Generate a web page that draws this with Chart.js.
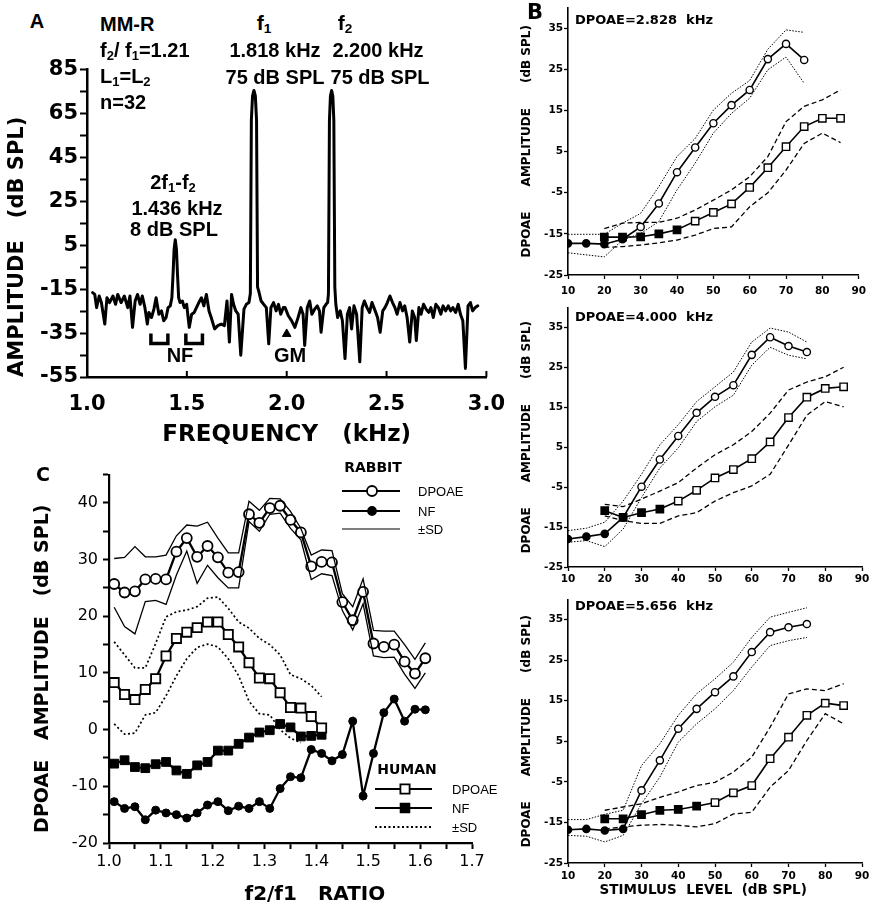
<!DOCTYPE html>
<html>
<head>
<meta charset="utf-8">
<script src="https://cdn.jsdelivr.net/npm/chart.js@4.4.1/dist/chart.umd.min.js"></script>
<style>
html, body { margin: 0; padding: 0; background: #fff; overflow: hidden; }
#page { position: relative; width: 875px; height: 907px; background: #fff; }
#page canvas { position: absolute; }
.note { position: absolute; font-family: 'DejaVu Sans', sans-serif; font-weight: bold; white-space: pre; color: #000; line-height: 1; }
.note.helv { font-family: 'Liberation Sans', Arial, sans-serif; }
.note sub { font-size: 65%; vertical-align: -0.25em; line-height: 0; }
</style>
</head>
<body>
<div id="page"></div>
<script>
/* ---------- panel A : spectrum ---------- */
// [frequency kHz, amplitude dB SPL]
var spectrumA = [
  [1.028,-16.6],[1.039,-17.4],[1.048,-23.4],[1.061,-18.1],[1.072,-21.1],[1.089,-30.9],[1.100,-18.9],[1.113,-21.1],
  [1.130,-18.1],[1.143,-21.9],[1.154,-17.4],[1.171,-21.1],[1.187,-18.1],[1.204,-23.4],[1.215,-18.1],[1.228,-32.4],
  [1.241,-20.4],[1.253,-17.4],[1.266,-21.9],[1.277,-18.1],[1.290,-23.4],[1.302,-30.9],[1.310,-25.6],[1.323,-27.9],
  [1.335,-24.1],[1.346,-18.9],[1.360,-26.4],[1.373,-24.9],[1.384,-29.4],[1.396,-27.9],[1.406,-23.4],[1.417,-22.6],
  [1.425,-18.9],[1.431,-8],[1.436,3],[1.442,7.5],[1.448,3],[1.453,-8],[1.459,-18.9],[1.466,-21.1],
  [1.478,-20.4],[1.487,-23.4],[1.499,-21.9],[1.512,-32.4],[1.524,-26.4],[1.537,-25.6],[1.548,-23.4],[1.560,-21.1],
  [1.573,-18.9],[1.585,-22.6],[1.598,-17.4],[1.611,-24.9],[1.622,-27.9],[1.639,-33.1],[1.655,-31.6],[1.672,-30.9],
  [1.688,-31.6],[1.701,-20.4],[1.713,-39.1],[1.724,-17.4],[1.734,-21.9],[1.745,-24.9],[1.757,-26.4],[1.770,-45.1],
  [1.786,-24.1],[1.798,-21.9],[1.811,-21.1],[1.818,-17],[1.823,62],[1.829,73],[1.836,75.5],[1.843,73],
  [1.849,62],[1.854,-14],[1.860,-15.9],[1.872,-20.4],[1.885,-21.9],[1.898,-23.4],[1.910,-39.9],[1.921,-23.4],
  [1.934,-21.1],[1.947,-24.9],[1.959,-21.9],[1.970,-26.4],[1.983,-23.4],[1.992,-23.4],[2.008,-27.1],[2.025,-29.4],
  [2.041,-32.4],[2.057,-27.9],[2.071,-23.4],[2.082,-26.4],[2.090,-40.6],[2.103,-23.4],[2.115,-20.4],[2.126,-26.4],
  [2.140,-24.1],[2.153,-22.6],[2.164,-24.9],[2.172,-34.6],[2.186,-23.4],[2.197,-21.9],[2.205,-21.1],[2.209,-17],
  [2.214,62],[2.219,73],[2.225,75.5],[2.231,73],[2.236,62],[2.241,-14],[2.246,-21.9],[2.255,-27.9],
  [2.268,-24.9],[2.279,-29.4],[2.292,-46.6],[2.304,-26.4],[2.315,-23.4],[2.325,-33.1],[2.337,-22.6],[2.350,-26.4],
  [2.366,-48.1],[2.378,-23.4],[2.389,-20.4],[2.402,-23.4],[2.415,-25.6],[2.427,-21.1],[2.443,-24.9],[2.455,-27.9],
  [2.468,-34.6],[2.481,-24.9],[2.492,-23.4],[2.504,-21.1],[2.517,-18.1],[2.530,-21.1],[2.542,-23.4],[2.553,-26.4],
  [2.567,-21.1],[2.580,-24.9],[2.591,-22.6],[2.603,-27.9],[2.616,-39.1],[2.629,-24.9],[2.641,-27.9],[2.649,-38.4],
  [2.662,-23.4],[2.673,-26.4],[2.685,-21.9],[2.698,-24.1],[2.711,-25.6],[2.722,-23.4],[2.734,-27.9],[2.747,-21.9],
  [2.760,-23.4],[2.772,-26.4],[2.783,-22.6],[2.796,-24.9],[2.809,-22.6],[2.821,-24.9],[2.832,-23.4],[2.846,-25.6],
  [2.859,-21.9],[2.870,-26.4],[2.882,-29.4],[2.895,-51.1],[2.908,-22.6],[2.920,-21.1],[2.931,-24.9],[2.944,-23.4],
  [2.957,-22.6]
];
var noiseBandsA = [[1.32, 1.405], [1.495, 1.578]];   // NF brackets (kHz)
var bracketLevelsA = [-35.2, -39.7];                  // bracket top / bottom (dB)
var gmMarkA = [2.0, -35.4];                           // geometric mean marker
var freqTicksA = [1.0, 1.5, 2.0, 2.5, 3.0];
var ampTicksA = [-55, -45, -35, -25, -15, -5, 5, 15, 25, 35, 45, 55, 65, 75, 85];
var ampLabelsA = [-55, -35, -15, 5, 25, 45, 65, 85];

/* ---------- panel B : I/O functions ---------- */
var levelsRabbit = [10, 15, 20, 25, 30, 35, 40, 45, 50, 55, 60, 65, 70, 75];
var levelsHuman = [20, 25, 30, 35, 40, 45, 50, 55, 60, 65, 70, 75, 80, 85];
var levelTicksB = [10, 20, 30, 40, 50, 60, 70, 80, 90];
var ampTicksB = [-25, -15, -5, 5, 15, 25, 35];

var b1RabbitDp   = [-17.3, -17.3, -17.5, -16.3, -13.3, -7.6, 0, 6, 11.9, 16.3, 20, 27.5, 31.2, 27.3];
var b1RabbitSdHi = [-15.1, -15.1, -15.1, -12.4, -10, -3.5, 3.8, 8.2, 15.1, 19.2, 22.3, 29.9, 34.6, 34];
var b1RabbitSdLo = [-19.6, -20.1, -20.6, -16.5, -14.9, -12, -4.3, 2.2, 9.5, 14.3, 18, 24.9, 28, 21.6];
var b1HumanDp    = [-15.8, -15.8, -15.7, -15, -14, -11.9, -9.8, -7.7, -3.7, 1.1, 6.2, 11.1, 13.1, 13.1];
var b1HumanSdHi  = [-13.7, -12.4, -12.2, -12.2, -11.2, -9.2, -6.8, -4.3, -1.1, 3.8, 12.3, 16, 17.6, 20];
var b1HumanSdLo  = [-18.3, -18.1, -17.7, -17.2, -16.5, -15.3, -13.7, -13.3, -8.4, -5, 0.5, 7, 9.5, 7.2];

var b2RabbitDp   = [-18, -17.4, -16.7, -12.6, -4.9, 1.9, 7.8, 13.6, 17.6, 20.5, 28.1, 32.5, 30.3, 28.8];
var b2RabbitSdHi = [-15.9, -15.3, -13.8, -8.5, -1.8, 5.6, 10.6, 16.4, 20.1, 23.8, 31.3, 34.8, 33.8, 31.3];
var b2RabbitSdLo = [-18.8, -18.4, -19.9, -15.5, -7.6, -0.2, 4.8, 11.4, 15.1, 18, 25.5, 30, 28, 27.1];
var b2HumanDp    = [-10.9, -12.6, -11.4, -10.5, -8.5, -5.8, -2.7, -0.6, 2.1, 6.3, 12.4, 17.5, 19.7, 20.1];
var b2HumanSdHi  = [-9.3, -9.9, -8, -6, -3.9, -0.2, 3.1, 5.6, 8.9, 13.5, 19.3, 21.3, 22.6, 25];
var b2HumanSdLo  = [-12.2, -13.4, -14.1, -14.1, -12.2, -11.4, -8.5, -6.4, -4.7, -1.8, 5.5, 13, 16.4, 15.1];

var b3RabbitDp   = [-16.8, -16.6, -17, -16.6, -7.1, 0.3, 8.1, 13, 17.1, 21, 27, 31.9, 33.1, 33.9];
var b3RabbitSdHi = [-14.3, -14.3, -13, -12, -1, 4.4, 11.4, 16.7, 20.4, 24.5, 30.6, 35.6, 36.8, 37.9];
var b3RabbitSdLo = [-18.2, -18.4, -19.8, -18.2, -10.4, -3.8, 4.8, 9.3, 13, 17.5, 23.3, 28.6, 29.8, 30.6];
var b3HumanDp    = [-14.1, -14.1, -13.1, -12, -11.8, -11, -10.1, -7.7, -5.9, 0.7, 6, 11.4, 14.4, 13.8];
var b3HumanSdHi  = [-12, -11.2, -10.4, -8.8, -7.5, -5.9, -5.1, -2.6, 1.1, 8.5, 16.7, 17.9, 17.5, 19.2];
var b3HumanSdLo  = [-16.6, -16.1, -15.7, -15.5, -15.7, -16.1, -15.3, -12.9, -12.5, -6.3, -2.2, 5.2, 11.8, 9.3];

// number of low-level points drawn filled (at noise floor)
var b1Filled = { rabbit: 4, human: 5 };
var b2Filled = { rabbit: 4, human: 4 };
var b3Filled = { rabbit: 4, human: 6 };

/* ---------- panel C : f2/f1 ratio ---------- */
var ratiosRabbit = [1.01, 1.03, 1.05, 1.07, 1.09, 1.11, 1.13, 1.15, 1.17, 1.19, 1.21, 1.23, 1.25, 1.27, 1.29, 1.31,
                    1.33, 1.35, 1.37, 1.39, 1.41, 1.43, 1.45, 1.47, 1.49, 1.51, 1.53, 1.55, 1.57, 1.59, 1.61];
var cRabbitDp   = [25.7, 24.2, 24.4, 26.5, 26.6, 26.5, 31.4, 33.8, 30.5, 32.4, 30.4, 27.7, 27.8, 38, 36.5, 39.1,
                   39.5, 37, 34.8, 28.8, 29.6, 29.5, 22.5, 19.3, 24.3, 15.2, 14.6, 15, 12, 9.9, 12.6];
var cRabbitSdHi = [30.2, 30.4, 32.3, 30.5, 30.5, 30.8, 34.2, 36.1, 35.9, 36.6, 33.8, 31.2, 31.2, 40.3, 38.7, 40.8,
                   40.7, 38.5, 35.5, 30.8, 31.7, 31.6, 24, 21.7, 26.6, 17.5, 17.4, 17.4, 15, 12.4, 15.3];
var cRabbitSdLo = [21.6, 18.2, 16.9, 22.6, 22.8, 22.1, 27.3, 31.5, 25.8, 29, 26.8, 25, 25, 36.7, 35, 38,
                   38.2, 35.5, 33.5, 26.5, 27.5, 27.2, 21, 17.6, 22.2, 13, 12.7, 12.8, 9.8, 7.3, 10];
var cRabbitNf   = [-12.7, -13.9, -13.6, -15.9, -14.2, -14.7, -15, -15.6, -14.7, -13.3, -12.7, -14.3, -13.5, -13.9, -12.7, -13.9,
                   -10.4, -8.3, -8.5, -3.5, -4.2, -5.5, -4.4, 1.5, -11.7, -4.2, 3, 5.4, 1.5, 3.6, 3.5];
var ratiosHuman = [1.01, 1.03, 1.05, 1.07, 1.09, 1.11, 1.13, 1.15, 1.17, 1.19, 1.21, 1.23, 1.25, 1.27, 1.29, 1.31,
                   1.33, 1.35, 1.37, 1.39, 1.41];
var cHumanDp    = [8.3, 6.2, 5.3, 7.1, 9, 13, 16.1, 17.2, 18, 19, 19, 16.8, 14.6, 11.8, 9.1, 9, 6.5, 3.9, 3.8, 2.3, 0.3];
var cHumanNf    = [-6, -5.4, -6.6, -6.8, -6.1, -5.7, -7.2, -7.8, -6.3, -5.7, -3.7, -3.7, -2.5, -1.4, -0.5, -0.1, 1, 0.4, -1.2, -1.1, -0.9];
var cHumanSdHi  = [15.5, 13.2, 10.9, 10.9, 15.2, 19.9, 20.8, 21.1, 21.7, 23.2, 23.4, 21.4, 19, 17.9, 16.1, 15, 13.2, 9.7, 9, 7.8, 5.8];
var cHumanSdLo  = [1, -0.8, -0.6, 2.6, 3, 6, 9.5, 12.5, 14.5, 15.1, 14.6, 12.5, 9.5, 5, 2.8, 2.6, 0, -1.5, -2.3];
var ratioTicksC = [1.0, 1.05, 1.1, 1.15, 1.2, 1.25, 1.3, 1.35, 1.4, 1.45, 1.5, 1.55, 1.6, 1.65, 1.7];
var ampTicksC = [-20, -15, -10, -5, 0, 5, 10, 15, 20, 25, 30, 35, 40, 45];

/* ---------- setup ---------- */
Chart.defaults.font.family = "'DejaVu Sans', sans-serif";
Chart.defaults.color = '#000';
Chart.defaults.animation = false;

var page = document.getElementById('page');

function makeCanvas(left, top, w, h) {
  var c = document.createElement('canvas');
  c.width = w; c.height = h;
  c.style.left = left + 'px'; c.style.top = top + 'px';
  c.style.width = w + 'px'; c.style.height = h + 'px';
  page.appendChild(c);
  return c;
}

function note(html, x, y, size, anchor, cls) {
  var d = document.createElement('div');
  d.className = 'note' + (cls ? ' ' + cls : '');
  d.innerHTML = html;
  d.style.left = x + 'px';
  d.style.top = y + 'px';
  d.style.fontSize = size + 'px';
  d.style.transform = anchor === 'left' ? 'translate(0,-50%)' : 'translate(-50%,-50%)';
  page.appendChild(d);
}

function pts(xs, ys) {
  return ys.map(function (y, i) { return { x: xs[i], y: y }; });
}

function fixTicks(list) {
  return function (scale) { scale.ticks = list.map(function (v) { return { value: v }; }); };
}

// short tick marks pointing into the plot (panel A x axis)
var innerTicks = {
  id: 'innerTicks',
  afterDraw: function (chart, args, opts) {
    var s = chart.scales.x, ctx = chart.ctx;
    ctx.save();
    ctx.strokeStyle = '#000';
    ctx.lineWidth = 2;
    s.ticks.forEach(function (t) {
      var px = s.getPixelForValue(t.value);
      ctx.beginPath();
      ctx.moveTo(px, s.top);
      ctx.lineTo(px, s.top - opts.len);
      ctx.stroke();
    });
    ctx.restore();
  }
};

/* ---------- chart A ---------- */
var canvasA = makeCanvas(0, 55, 520, 397);
var bracketSets = noiseBandsA.map(function (b) {
  return {
    data: [{ x: b[0], y: bracketLevelsA[0] }, { x: b[0], y: bracketLevelsA[1] },
           { x: b[1], y: bracketLevelsA[1] }, { x: b[1], y: bracketLevelsA[0] }],
    borderColor: '#000', borderWidth: 3.5, pointRadius: 0, borderJoinStyle: 'miter'
  };
});

new Chart(canvasA, {
  type: 'line',
  data: {
    datasets: [
      {
        data: spectrumA.map(function (p) { return { x: p[0], y: p[1] }; }),
        borderColor: '#000', borderWidth: 3, pointRadius: 0, tension: 0,
        borderJoinStyle: 'round', borderCapStyle: 'round'
      },
      bracketSets[0],
      bracketSets[1],
      {
        data: [{ x: gmMarkA[0], y: gmMarkA[1] }],
        showLine: false, pointStyle: 'triangle', pointRadius: 5,
        pointBackgroundColor: '#000', pointBorderColor: '#000', pointBorderWidth: 1
      }
    ]
  },
  plugins: [innerTicks],
  options: {
    responsive: false,
    layout: { autoPadding: false, padding: { top: 10, right: 25, left: 0, bottom: 0 } },
    plugins: { legend: { display: false }, tooltip: { enabled: false }, innerTicks: { len: 6 } },
    scales: {
      x: {
        type: 'linear', min: 1, max: 3,
        afterBuildTicks: fixTicks(freqTicksA),
        afterFit: function (s) { s.height = 75; },
        grid: { display: true, drawOnChartArea: false, drawTicks: false },
        border: { display: true, color: '#000', width: 2.5 },
        ticks: { autoSkip: false, maxRotation: 0, padding: 15, font: { size: 21, weight: 'bold' },
                 callback: function (v) { return v.toFixed(1); } },
        title: { display: true, text: 'FREQUENCY   (kHz)', font: { size: 23, weight: 'bold' },
                 padding: { top: 0, bottom: 3 } }
      },
      y: {
        min: -55, max: 85,
        afterBuildTicks: fixTicks(ampTicksA),
        afterFit: function (s) { s.width = 87; },
        grid: { drawOnChartArea: false, drawTicks: true, tickLength: 7, tickWidth: 2, tickColor: '#000' },
        border: { display: true, color: '#000', width: 2.5 },
        ticks: { autoSkip: false, padding: 2, font: { size: 21, weight: 'bold' },
                 callback: function (v) { return ampLabelsA.indexOf(v) >= 0 ? String(v) : ''; } },
        title: { display: true, text: 'AMPLITUDE   (dB SPL)', align: 'start', font: { size: 21, weight: 'bold' },
                 padding: { top: 5, bottom: 0 } }
      }
    }
  }
});

note('A', 37, 21, 20, 'center', 'helv');
note('MM-R', 100, 24, 20, 'left', 'helv');
note('f<sub>2</sub>/ f<sub>1</sub>=1.21', 100, 50, 20, 'left', 'helv');
note('L<sub>1</sub>=L<sub>2</sub>', 100, 76, 20, 'left', 'helv');
note('n=32', 100, 102, 20, 'left', 'helv');
note('f<sub>1</sub>', 264, 22, 21, 'center', 'helv');
note('1.818 kHz', 275, 50, 20, 'center', 'helv');
note('75 dB SPL', 275, 77, 20, 'center', 'helv');
note('f<sub>2</sub>', 345, 22, 21, 'center', 'helv');
note('2.200 kHz', 378, 50, 20, 'center', 'helv');
note('75 dB SPL', 380, 77, 20, 'center', 'helv');
note('2f<sub>1</sub>-f<sub>2</sub>', 173, 182, 20, 'center', 'helv');
note('1.436 kHz', 177, 208, 20, 'center', 'helv');
note('8 dB SPL', 174, 229, 20, 'center', 'helv');
note('NF', 180, 355, 20, 'center', 'helv');
note('GM', 290, 355, 20, 'center', 'helv');

/* ---------- chart B (three sub-panels) ---------- */
function stimulusChart(slot, s) {
  var canvas = makeCanvas(515, slot.top, 357, slot.height);
  var fillR = levelsRabbit.map(function (v, i) { return i < s.filled.rabbit ? '#000' : '#fff'; });
  var fillH = levelsHuman.map(function (v, i) { return i < s.filled.human ? '#000' : '#fff'; });
  var sdRabbit = { borderColor: '#000', borderWidth: 1, borderDash: [1.5, 1.5], pointRadius: 0 };
  var sdHuman = { borderColor: '#000', borderWidth: 1.3, borderDash: [5, 3], pointRadius: 0 };
  new Chart(canvas, {
    type: 'line',
    data: {
      datasets: [
        Object.assign({ data: pts(levelsRabbit, s.rabbitSdHi) }, sdRabbit),
        Object.assign({ data: pts(levelsRabbit, s.rabbitSdLo) }, sdRabbit),
        Object.assign({ data: pts(levelsHuman, s.humanSdHi) }, sdHuman),
        Object.assign({ data: pts(levelsHuman, s.humanSdLo) }, sdHuman),
        {
          data: pts(levelsHuman, s.humanDp), borderColor: '#000', borderWidth: 1.6,
          pointStyle: 'rect', pointRadius: 5.2, pointBorderWidth: 1.4,
          pointBorderColor: '#000', pointBackgroundColor: fillH
        },
        {
          data: pts(levelsRabbit, s.rabbitDp), borderColor: '#000', borderWidth: 1.6,
          pointStyle: 'circle', pointRadius: 3.6, pointBorderWidth: 1.4,
          pointBorderColor: '#000', pointBackgroundColor: fillR
        }
      ]
    },
    options: {
      responsive: false,
      layout: { autoPadding: false, padding: { top: slot.padTop, right: 10, left: 0, bottom: 0 } },
      plugins: { legend: { display: false }, tooltip: { enabled: false } },
      scales: {
        x: {
          type: 'linear', min: 10, max: 90,
          afterBuildTicks: fixTicks(levelTicksB),
          afterFit: function (sc) { sc.height = slot.xHeight; },
          grid: { drawOnChartArea: false, tickLength: 4, tickWidth: 1.3, tickColor: '#000' },
          border: { display: true, color: '#000', width: 1.6 },
          ticks: { autoSkip: false, maxRotation: 0, padding: slot.labelPad, font: { size: 10.5, weight: 'bold' } },
          title: { display: !!slot.title, text: slot.title || '', font: { size: 13.5, weight: 'bold' },
                   padding: { top: 0, bottom: 4 } }
        },
        y: {
          min: -25, max: 40,
          afterBuildTicks: fixTicks(ampTicksB),
          afterFit: function (sc) { sc.width = 53; },
          grid: { drawOnChartArea: false, tickLength: 4, tickWidth: 1.3, tickColor: '#000' },
          border: { display: true, color: '#000', width: 1.6 },
          ticks: { autoSkip: false, padding: 1, font: { size: 10.5, weight: 'bold' } },
          title: { display: true, text: 'DPOAE      AMPLITUDE      (dB SPL)', font: { size: 12, weight: 'bold' },
                   padding: { top: 4.8, bottom: 0 } }
        }
      }
    }
  });
}

stimulusChart({ top: 0, height: 300, padTop: 7.7, xHeight: 25, labelPad: 6 },
  { rabbitDp: b1RabbitDp, rabbitSdHi: b1RabbitSdHi, rabbitSdLo: b1RabbitSdLo,
    humanDp: b1HumanDp, humanSdHi: b1HumanSdHi, humanSdLo: b1HumanSdLo, filled: b1Filled });
stimulusChart({ top: 300, height: 291, padTop: 5, xHeight: 24, labelPad: 1.5 },
  { rabbitDp: b2RabbitDp, rabbitSdHi: b2RabbitSdHi, rabbitSdLo: b2RabbitSdLo,
    humanDp: b2HumanDp, humanSdHi: b2HumanSdHi, humanSdLo: b2HumanSdLo, filled: b2Filled });
stimulusChart({ top: 592, height: 311, padTop: 7, xHeight: 40, labelPad: 2.5, title: 'STIMULUS  LEVEL  (dB SPL)     ' },
  { rabbitDp: b3RabbitDp, rabbitSdHi: b3RabbitSdHi, rabbitSdLo: b3RabbitSdLo,
    humanDp: b3HumanDp, humanSdHi: b3HumanSdHi, humanSdLo: b3HumanSdLo, filled: b3Filled });

note('B', 535, 12, 21);
note('DPOAE=2.828  kHz', 575, 19, 13, 'left');
note('DPOAE=4.000  kHz', 575, 316, 13, 'left');
note('DPOAE=5.656  kHz', 575, 605, 13, 'left');

/* ---------- chart C ---------- */
var legendKeysC = [
  { head: 'RABBIT', hx: 353, hy: 8, x0: 322, x1: 380, mx: 352, lx: 398, rows: [
    { y: 31, text: 'DPOAE', w: 2, dash: [], shape: 'circle', fill: '#fff', r: 5 },
    { y: 51, text: 'NF', w: 2, dash: [], shape: 'circle', fill: '#000', r: 4 },
    { y: 69, text: '\u00b1SD', w: 1.1, dash: [], shape: null } ] },
  { head: 'HUMAN', hx: 387, hy: 310, x0: 355, x1: 412, mx: 385, lx: 432, rows: [
    { y: 329, text: 'DPOAE', w: 2, dash: [], shape: 'rect', fill: '#fff', r: 4.6 },
    { y: 348, text: 'NF', w: 2, dash: [], shape: 'rect', fill: '#000', r: 4.4 },
    { y: 367, text: '\u00b1SD', w: 1.8, dash: [2, 2.5], shape: null } ] }
];

var panelLegend = {
  id: 'panelLegend',
  afterDraw: function (chart) {
    var ctx = chart.ctx;
    ctx.save();
    legendKeysC.forEach(function (g) {
      ctx.fillStyle = '#000';
      ctx.font = "bold 14px 'DejaVu Sans', sans-serif";
      ctx.textAlign = 'center';
      ctx.textBaseline = 'middle';
      ctx.fillText(g.head, g.hx, g.hy);
      g.rows.forEach(function (r) {
        ctx.strokeStyle = '#000';
        ctx.lineWidth = r.w;
        ctx.setLineDash(r.dash);
        ctx.beginPath();
        ctx.moveTo(g.x0, r.y);
        ctx.lineTo(g.x1, r.y);
        ctx.stroke();
        ctx.setLineDash([]);
        if (r.shape) {
          ctx.fillStyle = r.fill;
          ctx.lineWidth = 1.8;
          ctx.beginPath();
          if (r.shape === 'circle') ctx.arc(g.mx, r.y, r.r, 0, Math.PI * 2);
          else ctx.rect(g.mx - r.r, r.y - r.r, r.r * 2, r.r * 2);
          ctx.fill();
          ctx.stroke();
        }
        ctx.fillStyle = '#000';
        ctx.font = "13px 'Liberation Sans', sans-serif";
        ctx.textAlign = 'left';
        ctx.fillText(r.text, g.lx, r.y + 1);
      });
    });
    ctx.restore();
  }
};

var canvasC = makeCanvas(20, 460, 480, 447);
var sdRabbitC = { borderColor: '#000', borderWidth: 1.3, pointRadius: 0, tension: 0 };
var sdHumanC = { borderColor: '#000', borderWidth: 1.7, borderDash: [2, 2.5], pointRadius: 0, tension: 0 };

new Chart(canvasC, {
  type: 'line',
  data: {
    datasets: [
      Object.assign({ data: pts(ratiosRabbit, cRabbitSdHi) }, sdRabbitC),
      Object.assign({ data: pts(ratiosRabbit, cRabbitSdLo) }, sdRabbitC),
      Object.assign({ data: pts(ratiosHuman, cHumanSdHi) }, sdHumanC),
      Object.assign({ data: pts(ratiosHuman, cHumanSdLo) }, sdHumanC),
      {
        data: pts(ratiosHuman, cHumanDp), borderColor: '#000', borderWidth: 2.3,
        pointStyle: 'rect', pointRadius: 6.5, pointBorderWidth: 1.8,
        pointBorderColor: '#000', pointBackgroundColor: '#fff'
      },
      {
        data: pts(ratiosHuman, cHumanNf), borderColor: '#000', borderWidth: 2.3,
        pointStyle: 'rect', pointRadius: 6.2, pointBorderWidth: 1,
        pointBorderColor: '#000', pointBackgroundColor: '#000'
      },
      {
        data: pts(ratiosRabbit, cRabbitNf), borderColor: '#000', borderWidth: 2.3,
        pointStyle: 'circle', pointRadius: 4, pointBorderWidth: 1,
        pointBorderColor: '#000', pointBackgroundColor: '#000'
      },
      {
        data: pts(ratiosRabbit, cRabbitDp), borderColor: '#000', borderWidth: 2.3,
        pointStyle: 'circle', pointRadius: 5, pointBorderWidth: 1.8,
        pointBorderColor: '#000', pointBackgroundColor: '#fff'
      }
    ]
  },
  plugins: [panelLegend],
  options: {
    responsive: false,
    layout: { autoPadding: false, padding: { top: 11, right: 28, left: 0, bottom: 0 } },
    plugins: { legend: { display: false }, tooltip: { enabled: false } },
    scales: {
      x: {
        type: 'linear', min: 1.0, max: 1.7,
        afterBuildTicks: fixTicks(ratioTicksC),
        afterFit: function (s) { s.height = 64; },
        grid: { drawOnChartArea: false, tickLength: 6, tickWidth: 2, tickColor: '#000' },
        border: { display: true, color: '#000', width: 2.2 },
        ticks: { autoSkip: false, maxRotation: 0, padding: 3.4, font: { size: 16 },
                 callback: function (v) { return Math.round(v * 100) % 10 === 0 ? v.toFixed(1) : ''; } },
        title: { display: true, text: '       f2/f1   RATIO', font: { size: 20, weight: 'bold' },
                 padding: { top: 0, bottom: 0 } }
      },
      y: {
        min: -20, max: 45,
        afterBuildTicks: fixTicks(ampTicksC),
        afterFit: function (s) { s.width = 89; },
        grid: { drawOnChartArea: false, tickLength: 6, tickWidth: 2, tickColor: '#000' },
        border: { display: true, color: '#000', width: 2.2 },
        ticks: { autoSkip: false, padding: 5, font: { size: 16 },
                 callback: function (v) { return v % 10 === 0 ? String(v) : ''; } },
        title: { display: true, text: 'DPOAE   AMPLITUDE   (dB SPL)   ', font: { size: 19, weight: 'bold' },
                 padding: { top: 11.6, bottom: 0 } }
      }
    }
  }
});

note('C', 43, 474, 19);
</script>
</body>
</html>
